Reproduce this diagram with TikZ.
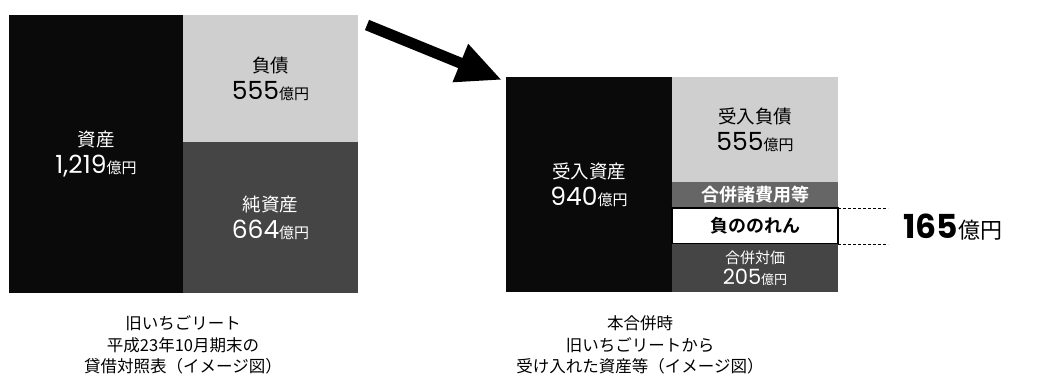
\documentclass[tikz,border=0pt]{standalone}
\usepackage{fontspec}
\usetikzlibrary{arrows.meta}
\setmainfont{Noto Sans CJK JP}[BoldFont={Noto Sans CJK JP Bold}]
\newfontfamily\numf{Poppins}
\newcommand\amt[3][25]{{\numf\fontsize{#1}{26}\selectfont #3}{\fontsize{#2}{26}\selectfont 億円}}
\begin{document}
\begin{tikzpicture}[x=1pt,y=-1pt,
  cell/.style={rectangle, inner sep=0pt, outer sep=0pt, anchor=north west, align=center, font=\fontsize{18.5}{27}\selectfont},
  blk/.style={cell, fill=black!96, text=white},
  lgt/.style={cell, fill=black!19, text=black},
  drk/.style={cell, fill=black!73, text=white},
  midc/.style={cell, fill=black!60, text=white, font=\bfseries\fontsize{18}{26}\selectfont},
  wbox/.style={cell, fill=white, draw=black, line width=1.2pt, text=black, font=\bfseries\fontsize{18}{26}\selectfont},
  caption/.style={align=center, font=\fontsize{16.5}{21.5}\selectfont},
  dashline/.style={dashed, line width=0.8pt, dash pattern=on 3pt off 2pt},
  bigarrow/.style={line width=11pt, -{Triangle[length=45pt,width=38pt]}}]
\useasboundingbox (0,0) rectangle (1040,377);
% left balance sheet
\node[blk, minimum width=174pt, minimum height=278pt] (la) at (9,15) {資産\\\amt{15}{1,219}};
\node[lgt, minimum width=175pt, minimum height=127pt] (ll) at (183,15) {負債\\\amt{15}{555}};
\node[drk, minimum width=175pt, minimum height=151pt] (le) at (183,142) {純資産\\\amt{15}{664}};
\node[caption] (lc) at (183,345) {旧いちごリート\\平成23年10月期末の\\貸借対照表（イメージ図）};
% arrow
\coordinate (as) at (367,25);
\coordinate (ae) at (502,80);
\draw[bigarrow] (as) -- (ae);
% right sheet
\node[blk, minimum width=166pt, minimum height=215pt] (ra) at (506,77) {受入資産\\\amt{15}{940}};
\node[lgt, minimum width=166pt, minimum height=105pt] (rl) at (672,77) {受入負債\\\amt{15}{555}};
\node[midc, minimum width=166pt, minimum height=26pt] (rm) at (672,182) {合併諸費用等};
\node[wbox, minimum width=166pt, minimum height=36pt] (nr) at (672,208) {負ののれん};
\node[drk, minimum width=166pt, minimum height=48pt, font=\fontsize{15}{21}\selectfont] (rp) at (672,244) {合併対価\\\amt[21]{13}{205}};
\node[caption] (rc) at (640,345) {本合併時\\旧いちごリートから\\受け入れた資産等（イメージ図）};
% dashed guides and amount
\coordinate (d1) at (888,208);
\coordinate (d2) at (888,244);
\draw[dashline] (nr.north east) -- (d1);
\draw[dashline] (nr.south east) -- (d2);
\node[anchor=west, inner sep=0pt] (big) at (903,227) {{\numf\bfseries\fontsize{33}{34}\selectfont 165}{\fontsize{22}{34}\selectfont 億円}};
\end{tikzpicture}
\end{document}
